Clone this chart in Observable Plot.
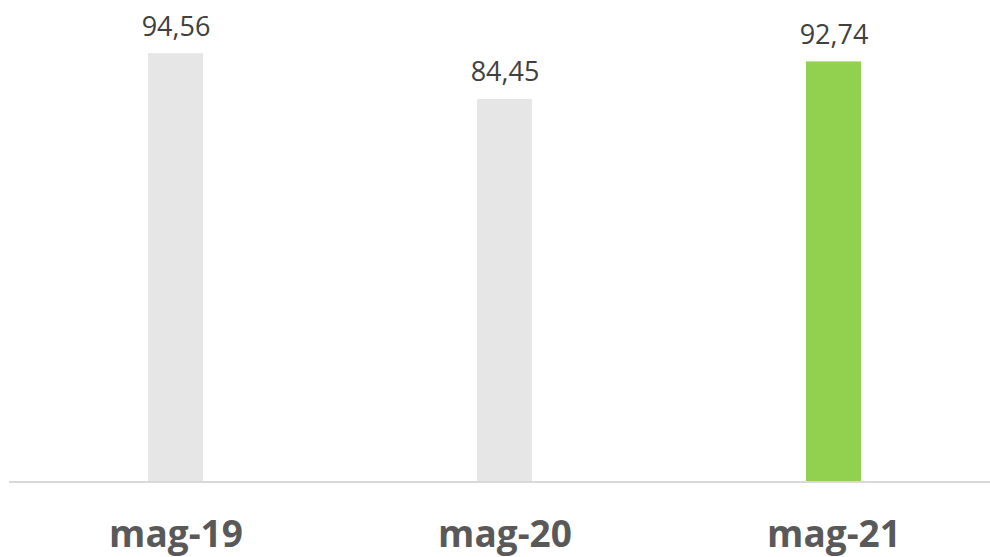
<!DOCTYPE html>
<html>
<head>
<meta charset="utf-8">
<script src="https://cdn.jsdelivr.net/npm/d3@7"></script>
<script src="https://cdn.jsdelivr.net/npm/@observablehq/plot@0.6"></script>
<style>
  html, body { margin: 0; padding: 0; background: #fff; }
  #chart svg { display: block; }
</style>
</head>
<body>
<div id="chart"></div>
<script>
const categories = ["mag-19", "mag-20", "mag-21"];
const values = [94.56, 84.45, 92.74];
const labels = ["94,56", "84,45", "92,74"];
const colors = ["#e6e6e6", "#e6e6e6", "#92d050"];

const data = categories.map((c, i) => ({cat: c, value: values[i], label: labels[i], color: colors[i]}));

const chart = Plot.plot({
  width: 990,
  height: 557,
  marginTop: 0,
  marginBottom: 75.5,
  marginLeft: 9,
  marginRight: 0,
  style: {fontFamily: "'Open Sans', sans-serif", background: "#fff"},
  x: {domain: categories, range: [9.5, 999.5], paddingInner: 0.833, paddingOuter: 0.4167, label: null},
  y: {domain: [0, 106.3], axis: null},
  marks: [
    Plot.barY(data, {x: "cat", y: "value", fill: "color"}),
    Plot.ruleY([0], {stroke: "#d9d9d9", strokeWidth: 2}),
    Plot.text(data, {x: "cat", y: "value", text: "label", dy: -18, lineAnchor: "bottom", fontSize: 27, fill: "#404040"}),
    Plot.axisX({tickSize: 0, tickPadding: 39, fontSize: 37, fontWeight: "bold", fill: "#595959", label: null})
  ]
});
document.getElementById("chart").appendChild(chart);
</script>
</body>
</html>
